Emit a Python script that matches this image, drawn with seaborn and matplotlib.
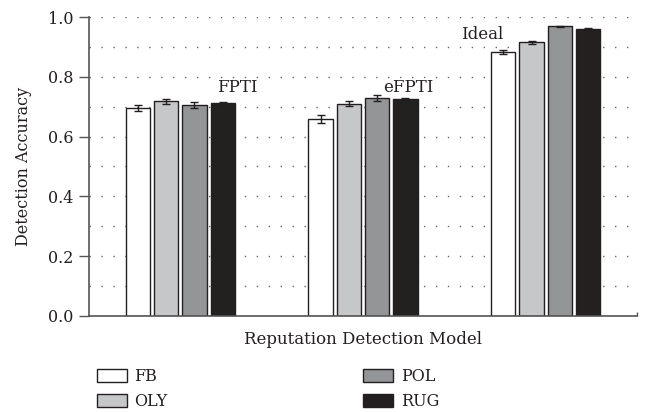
import matplotlib
matplotlib.use("Agg")
import matplotlib.pyplot as plt
import seaborn as sns
import pandas as pd
import numpy as np
from matplotlib.patches import Patch

models = ["FPTI", "eFPTI", "Ideal"]
datasets = ["FB", "OLY", "POL", "RUG"]
fb = [0.695, 0.659, 0.883]
oly = [0.718, 0.710, 0.915]
pol = [0.706, 0.729, 0.969]
rug = [0.711, 0.726, 0.961]
fb_err = [0.010, 0.012, 0.007]
oly_err = [0.008, 0.008, 0.005]
pol_err = [0.010, 0.009, 0.002]
rug_err = [0.005, 0.003, 0.001]
colors = ["#ffffff", "#c6c7c9", "#939598", "#231f20"]

values = {"FB": fb, "OLY": oly, "POL": pol, "RUG": rug}
errors = {"FB": fb_err, "OLY": oly_err, "POL": pol_err, "RUG": rug_err}
rows = []
for d in datasets:
    for m, v, e in zip(models, values[d], errors[d]):
        rows.append({"Model": m, "Dataset": d, "Accuracy": v, "Err": e})
df = pd.DataFrame(rows)

sns.set_style("white")
plt.rcParams["font.family"] = ["DejaVu Serif"]
edge = "#231f20"
txt = "#231f20"

fig = plt.figure(figsize=(6.46, 4.12), dpi=100)
ax = fig.add_axes([89/646, 1-316/412, (637-89)/646, (316-17)/412])

sns.barplot(data=df, x="Model", y="Accuracy", hue="Dataset", order=models,
            hue_order=datasets, palette=colors, width=0.62, gap=0.15,
            edgecolor=edge, linewidth=1.0, errorbar=None, legend=False, ax=ax)

# error bars from the bars drawn by seaborn
for cont, d in zip(ax.containers, datasets):
    xs = [p.get_x() + p.get_width()/2 for p in cont.patches]
    hs = [p.get_height() for p in cont.patches]
    ax.errorbar(xs, hs, yerr=errors[d], fmt="none", ecolor=edge,
                elinewidth=1.0, capsize=3, capthick=1.0, zorder=5)

ax.set_ylim(0, 1.0)
ax.set_xlim(-0.5, 2.5)
ax.set_yticks(np.arange(0, 1.01, 0.2))
ax.set_yticklabels([f"{t:.1f}" for t in np.arange(0, 1.01, 0.2)], fontsize=11.5, color=txt)
ax.set_yticks(np.arange(0.1, 1.0, 0.2), minor=True)
ax.set_xticks([])
ax.set_xticks([2.5], minor=True)
ax.tick_params(axis="x", which="minor", direction="in", length=3, width=1,
               color="#555555", bottom=True, labelbottom=False)
ax.yaxis.grid(True, which="both", linestyle=(0, (1, 7.6)), linewidth=1.0, color="#666666")
ax.set_axisbelow(True)
ax.tick_params(axis="y", which="major", direction="out", length=7, width=1, pad=4,
               color="#555555", left=True)
ax.tick_params(axis="y", which="minor", length=0)
for s in ["top", "right"]:
    ax.spines[s].set_visible(False)
for s in ["left", "bottom"]:
    ax.spines[s].set_color("#555555")
    ax.spines[s].set_linewidth(1.2)

ax.set_ylabel("Detection Accuracy", fontsize=11.5, color=txt, labelpad=12)
ax.set_xlabel("Reputation Detection Model", fontsize=12, color=txt, labelpad=11)

ax.text(0.31, 0.763, "FPTI", fontsize=12, ha="center", va="center", color=txt)
ax.text(1.25, 0.763, "eFPTI", fontsize=12, ha="center", va="center", color=txt)
ax.text(1.65, 0.94, "Ideal", fontsize=12, ha="center", va="center", color=txt)

handles = [Patch(facecolor=c, edgecolor=edge, linewidth=1.0, label=d) for c, d in zip(colors, datasets)]
fig.legend(handles=handles, ncol=2, loc="upper left", bbox_to_anchor=(97/646, 1-368/412),
           frameon=False, fontsize=11.5, handlelength=1.85, handleheight=0.8,
           handletextpad=0.5, columnspacing=12.25, labelspacing=0.5, borderaxespad=0,
           borderpad=0, labelcolor=txt)

fig.savefig("out.png", dpi=100)
